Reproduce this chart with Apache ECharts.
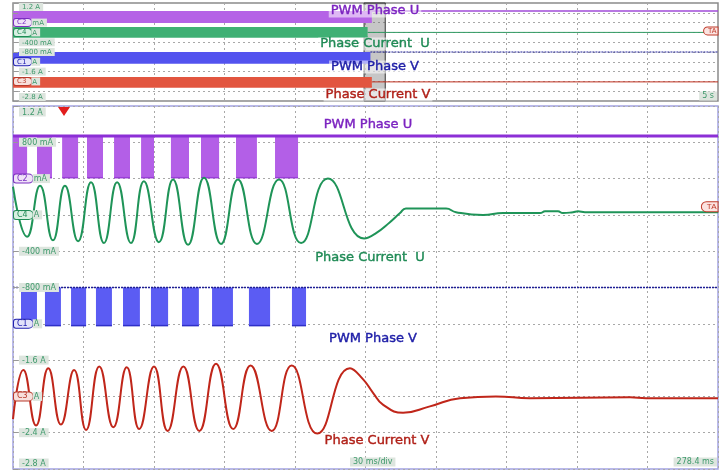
<!DOCTYPE html>
<html>
<head>
<meta charset="utf-8">
<title>PWM / phase current capture</title>
<script src="https://cdn.jsdelivr.net/npm/echarts@6/dist/echarts.min.js"></script>
<style>
  html, body { margin: 0; padding: 0; background: #fff; }
  #main { width: 726px; height: 472px; }
</style>
</head>
<body>
<div id="main"></div>
<script>
// vertical scale (A), bottom to top, shared by both panels
const yTicks = [-2.8, -2.4, -2.0, -1.6, -1.2, -0.8, -0.4, 0, 0.4, 0.8, 1.2];
// tick labels, 'Cx|unit' = channel tag sitting on that tick
const mainTickLabels = ['-2.8 A', '-2.4 A', 'C3|A', '-1.6 A', 'C1|A', '-800 mA', '-400 mA', 'C4|A', 'C2|mA', '800 mA', '1.2 A'];
const overviewTickLabels = ['-2.8 A', '', 'C3|A', '-1.6 A', 'C1|A', '-800 mA', '-400 mA', 'C4|A', 'C2|mA', '', '1.2 A'];

// overview strip (x in divisions): PWM U, current U, PWM V, current V
const overviewBandEnd = [5.09, 5.03, 5.07, 5.09];
const overviewBandLow = [0.41, -0.19, -1.25, -2.23];
const overviewBandHigh = [0.87, 0.22, -0.80, -1.82];
const overviewRest = [0.87, 0.0, -0.80, -2.02];
const zoomWindow = [4.98, 5.28];

// zoomed view, time in ms
// PWM phase U chopping bursts
const pwmUOn = [0, 10.2, 20.9, 31.5, 43.0, 54.5, 67.2, 80.0, 94.9, 111.5];
const pwmUOff = [6.0, 16.6, 27.7, 38.3, 49.8, 60.0, 74.9, 87.7, 103.8, 121.3];
const pwmUHigh = 0.87;
const pwmULow = 0.41;
// PWM phase V chopping bursts
const pwmVOn = [3.4, 13.6, 24.7, 35.3, 46.8, 58.7, 71.9, 84.7, 100.4, 118.7];
const pwmVOff = [10.2, 20.4, 31.1, 42.1, 54.0, 66.0, 79.1, 93.6, 109.4, 124.7];
const pwmVHigh = -0.80;
const pwmVLow = -1.22;

// phase current U (A)
const curUTime = [0, 6.0, 11.5, 17.0, 22.1, 27.7, 33.2, 38.7, 44.3, 50.2, 55.7, 62.1, 68.1, 74.5, 81.3, 88.5, 95.7, 103.8, 113.2, 122.6,
  134.0, 149.4, 154.5, 160.4, 164.7, 167.2, 184.3, 188.5, 200.0, 208.5, 224.3, 226.4, 231.9, 234.0, 238.3, 240.4, 243.4, 300];
const curUValue = [0.31, -0.24, 0.32, -0.28, 0.32, -0.29, 0.36, -0.31, 0.36, -0.31, 0.37, -0.30, 0.39, -0.33, 0.41, -0.32, 0.39, -0.32, 0.39, -0.31,
  0.40, -0.26, -0.20, -0.08, 0.02, 0.07, 0.07, 0.03, 0.00, 0.02, 0.02, 0.04, 0.04, 0.02, 0.03, 0.04, 0.03, 0.03];
// phase current V (A)
const curVTime = [0, 4.4, 9.8, 15.0, 20.4, 26.0, 31.1, 36.7, 42.7, 48.4, 53.7, 60.0, 65.8, 72.5, 79.3, 86.4, 93.7, 101.1, 110.1, 118.6,
  129.5, 143.4, 148.9, 153.2, 157.4, 166.0, 177.4, 190.2, 205.5, 220.0, 262.6, 269.4, 300];
const curVValue = [-2.25, -1.71, -2.32, -1.69, -2.31, -1.71, -2.37, -1.67, -2.34, -1.68, -2.36, -1.67, -2.38, -1.67, -2.38, -1.64, -2.36, -1.66, -2.38, -1.66,
  -2.41, -1.69, -1.81, -1.96, -2.09, -2.18, -2.11, -2.02, -2.00, -2.02, -2.01, -2.02, -2.02];

// trigger marker and TA tags
const triggerPoint = [21.7, 1.14];
const taMain = [300, 0.09];
const taOverview = [10, 0.06];

// colours
const bandColors = ['#b563e6', '#3fb074', '#5353ef', '#e2553f'];
const restColors = ['#a14bd9', '#2f9a62', '#1e1e96', '#c0301f'];
const purple = '#b35fe7', purpleLine = '#8c2fd6', purpleText = '#7b22c0';
const blue = '#5b5cf3', blueLine = '#1e1e96', blueText = '#2020a8';
const green = '#1f9458', greenText = '#1f8a55';
const red = '#c0261a', redText = '#b02018';
const labelGreen = '#3f9a6c', labelBg = '#dde5de';
const tagColors = { C1: ['#2020b0', '#e2e2fa'], C2: ['#7a2fc0', '#efe2f8'], C3: ['#b83a2c', '#f8e0dc'], C4: ['#1f8a55', '#d8f0e2'] };

function makeRich(size, lh) {
  const rich = {
    g: { color: labelGreen, backgroundColor: labelBg, fontSize: size, padding: [1, 3, 0, 3], fontFamily: 'DejaVu Sans' },
    u: { color: labelGreen, backgroundColor: labelBg, fontSize: size, padding: [1, 3, 0, 1], fontFamily: 'DejaVu Sans' },
    pad: { width: 5 },
    sp: { fontSize: size, lineHeight: lh }
  };
  Object.keys(tagColors).forEach(function (k) {
    rich[k] = {
      color: tagColors[k][0], borderColor: tagColors[k][0], borderWidth: 1, backgroundColor: tagColors[k][1],
      borderRadius: [2, 6, 6, 2], padding: [0, 5, 0, 3], fontSize: size, fontFamily: 'DejaVu Sans'
    };
  });
  return rich;
}

function tickFormatter(labels) {
  return function (value) {
    const i = yTicks.findIndex(function (t) { return Math.abs(t - value) < 1e-6; });
    const txt = labels[i];
    if (!txt) return '';
    let s;
    if (txt.indexOf('|') >= 0) {
      const p = txt.split('|');
      s = '{' + p[0] + '|' + p[0] + '}{u|' + p[1] + '}';
    } else {
      s = '{pad|}{g|' + txt + '}';
    }
    // push the edge labels inside the frame
    if (i === 0) s = s + '\n{sp| }';
    if (i === yTicks.length - 1) s = '{sp| }\n' + s;
    return s;
  };
}

function dataAxis(gridIndex) {
  return {
    gridIndex: gridIndex, type: 'value', position: 'left', min: -2.8, max: 1.2, interval: 0.4,
    axisLine: { show: false }, axisTick: { show: false }, axisLabel: { show: false },
    splitLine: { show: true, lineStyle: { color: '#a8a8a8', width: 1, type: [2, 3] } }
  };
}

function labelAxis(gridIndex, labels, size, lh) {
  return {
    gridIndex: gridIndex, type: 'value', position: 'left', offset: 0, min: -2.8, max: 1.2, interval: 0.4, z: 5,
    axisLine: { show: false }, splitLine: { show: false },
    axisTick: { show: true, inside: true, length: 5, lineStyle: { color: '#999' } },
    axisLabel: { inside: true, margin: 1, formatter: tickFormatter(labels), rich: makeRich(size, lh) }
  };
}

function timeAxis(gridIndex, max, interval) {
  return {
    gridIndex: gridIndex, type: 'value', min: 0, max: max, interval: interval,
    axisLine: { show: false }, axisTick: { show: false }, axisLabel: { show: false },
    splitLine: { show: true, lineStyle: { color: '#a8a8a8', width: 1, type: [2, 3] } }
  };
}

// filled chopping block: [start, end, low, high]
function blockRenderer(edgeColor) {
  return function (params, api) {
    const tl = api.coord([api.value(0), api.value(3)]);
    const br = api.coord([api.value(1), api.value(2)]);
    return {
      type: 'group',
      children: [
        { type: 'rect', shape: { x: tl[0], y: tl[1], width: br[0] - tl[0], height: br[1] - tl[1] }, style: api.style() },
        { type: 'line', shape: { x1: tl[0], y1: br[1], x2: br[0], y2: br[1] }, style: { stroke: edgeColor, lineWidth: 1.5 } }
      ]
    };
  };
}

function pairs(xs, ys) {
  return xs.map(function (x, i) { return [x, ys[i]]; });
}

const series = [];

// overview strip
overviewBandEnd.forEach(function (end, i) {
  series.push({
    type: 'custom', xAxisIndex: 0, yAxisIndex: 0, renderItem: blockRenderer(bandColors[i]),
    itemStyle: { color: bandColors[i] }, encode: { x: [0, 1], y: [2, 3] },
    data: [[0, end, overviewBandLow[i], overviewBandHigh[i]]]
  });
  series.push({
    type: 'line', xAxisIndex: 0, yAxisIndex: 0, symbol: 'none',
    lineStyle: { color: restColors[i], width: i === 0 ? 1.5 : 1, type: i === 2 ? [2, 1] : 'solid' },
    data: [[end, overviewRest[i]], [10, overviewRest[i]]],
    z: i === 3 ? 4 : 2,
    markArea: i === 3 ? {
      silent: true,
      itemStyle: { color: 'rgba(105,105,105,0.38)', borderColor: '#333', borderWidth: 1 },
      data: [[{ xAxis: zoomWindow[0] }, { xAxis: zoomWindow[1] }]]
    } : undefined,
    markPoint: i === 1 ? {
      symbol: 'circle', symbolSize: 1, itemStyle: { color: 'transparent' },
      label: {
        show: true, position: 'left', distance: 0, formatter: 'TA', color: '#c03a2a', fontSize: 7,
        backgroundColor: '#fbe3e0', borderColor: '#c03a2a', borderWidth: 1, borderRadius: [5, 0, 0, 5], padding: [0, 1, 0, 4]
      },
      data: [{ coord: taOverview }]
    } : undefined
  });
});

// zoomed view: PWM U
series.push({
  type: 'custom', xAxisIndex: 1, yAxisIndex: 2, renderItem: blockRenderer('#9a3fd8'),
  itemStyle: { color: purple }, encode: { x: [0, 1], y: [2, 3] },
  data: pwmUOn.map(function (t, i) { return [t, pwmUOff[i], pwmULow, pwmUHigh]; })
});
series.push({
  type: 'line', xAxisIndex: 1, yAxisIndex: 2, symbol: 'none',
  lineStyle: { color: purpleLine, width: 3 },
  data: [[0, pwmUHigh], [300, pwmUHigh]]
});
// PWM V
series.push({
  type: 'custom', xAxisIndex: 1, yAxisIndex: 2, renderItem: blockRenderer('#2f30c8'),
  itemStyle: { color: blue }, encode: { x: [0, 1], y: [2, 3] },
  data: pwmVOn.map(function (t, i) { return [t, pwmVOff[i], pwmVLow, pwmVHigh]; })
});
series.push({
  type: 'line', xAxisIndex: 1, yAxisIndex: 2, symbol: 'none',
  lineStyle: { color: blueLine, width: 1.5, type: [2, 1] },
  data: [[0, pwmVHigh], [300, pwmVHigh]]
});
// phase current U
series.push({
  type: 'line', xAxisIndex: 1, yAxisIndex: 2, symbol: 'none', smooth: 0.5,
  lineStyle: { color: green, width: 2 },
  data: pairs(curUTime, curUValue),
  markPoint: {
    data: [
      {
        coord: triggerPoint, symbol: 'triangle', symbolRotate: 180, symbolSize: [12, 9],
        itemStyle: { color: '#e21d1d' }, label: { show: false }
      },
      {
        coord: taMain, symbol: 'circle', symbolSize: 1, itemStyle: { color: 'transparent' },
        label: {
          show: true, position: 'left', distance: 0, formatter: 'TA', color: '#c03a2a', fontSize: 8,
          backgroundColor: '#fbe3e0', borderColor: '#c03a2a', borderWidth: 1, borderRadius: [6, 0, 0, 6], padding: [1, 1, 0, 5]
        }
      }
    ]
  }
});
// phase current V
series.push({
  type: 'line', xAxisIndex: 1, yAxisIndex: 2, symbol: 'none', smooth: 0.5,
  lineStyle: { color: red, width: 2 },
  data: pairs(curVTime, curVValue)
});

function caption(text, x, y, color) {
  return {
    type: 'text', x: x, y: y, z: 100,
    style: {
      text: text, fill: color, stroke: color, lineWidth: 0.4, font: '13px "DejaVu Sans"', textAlign: 'center', textVerticalAlign: 'middle',
      backgroundColor: 'rgba(255,255,255,0.55)', padding: [0, 2]
    }
  };
}
function smallNote(text, x, y, align) {
  return {
    type: 'text', x: x, y: y, z: 100,
    style: {
      text: text, fill: labelGreen, font: '8px "DejaVu Sans"', textAlign: align, textVerticalAlign: 'middle',
      backgroundColor: labelBg, padding: [1, 3, 0, 3]
    }
  };
}

const chart = echarts.init(document.getElementById('main'), null, { renderer: 'canvas' });
chart.setOption({
  backgroundColor: '#ffffff',
  animation: false,
  grid: [
    { left: 13, right: 8, top: 3, height: 98, show: true, containLabel: false, outerBoundsMode: 'none',
      backgroundColor: '#fff', borderColor: '#8a8a8a', borderWidth: 1.5 },
    { left: 13, right: 8, top: 106, height: 363, show: true, containLabel: false, outerBoundsMode: 'none',
      backgroundColor: '#fff', borderColor: '#a3a3e2', borderWidth: 1.5 }
  ],
  xAxis: [timeAxis(0, 10, 1), timeAxis(1, 300, 30)],
  yAxis: [
    dataAxis(0),
    labelAxis(0, overviewTickLabels, 7, 8),
    dataAxis(1),
    labelAxis(1, mainTickLabels, 8, 12)
  ],
  series: series,
  graphic: [
    // overview captions
    caption('PWM Phase U', 375, 11, purpleText),
    caption('Phase Current  U', 375, 44, greenText),
    caption('PWM Phase V', 375, 67, blueText),
    caption('Phase Current V', 378, 95, redText),
    // zoomed captions
    caption('PWM Phase U', 368, 125, purpleText),
    caption('Phase Current  U', 370, 258, greenText),
    caption('PWM Phase V', 373, 339, blueText),
    caption('Phase Current V', 377, 441, redText),
    smallNote('5 s', 717, 96, 'right'),
    smallNote('30 ms/div', 350, 462, 'left'),
    smallNote('278.4 ms', 717, 462, 'right')
  ]
});
</script>
</body>
</html>
